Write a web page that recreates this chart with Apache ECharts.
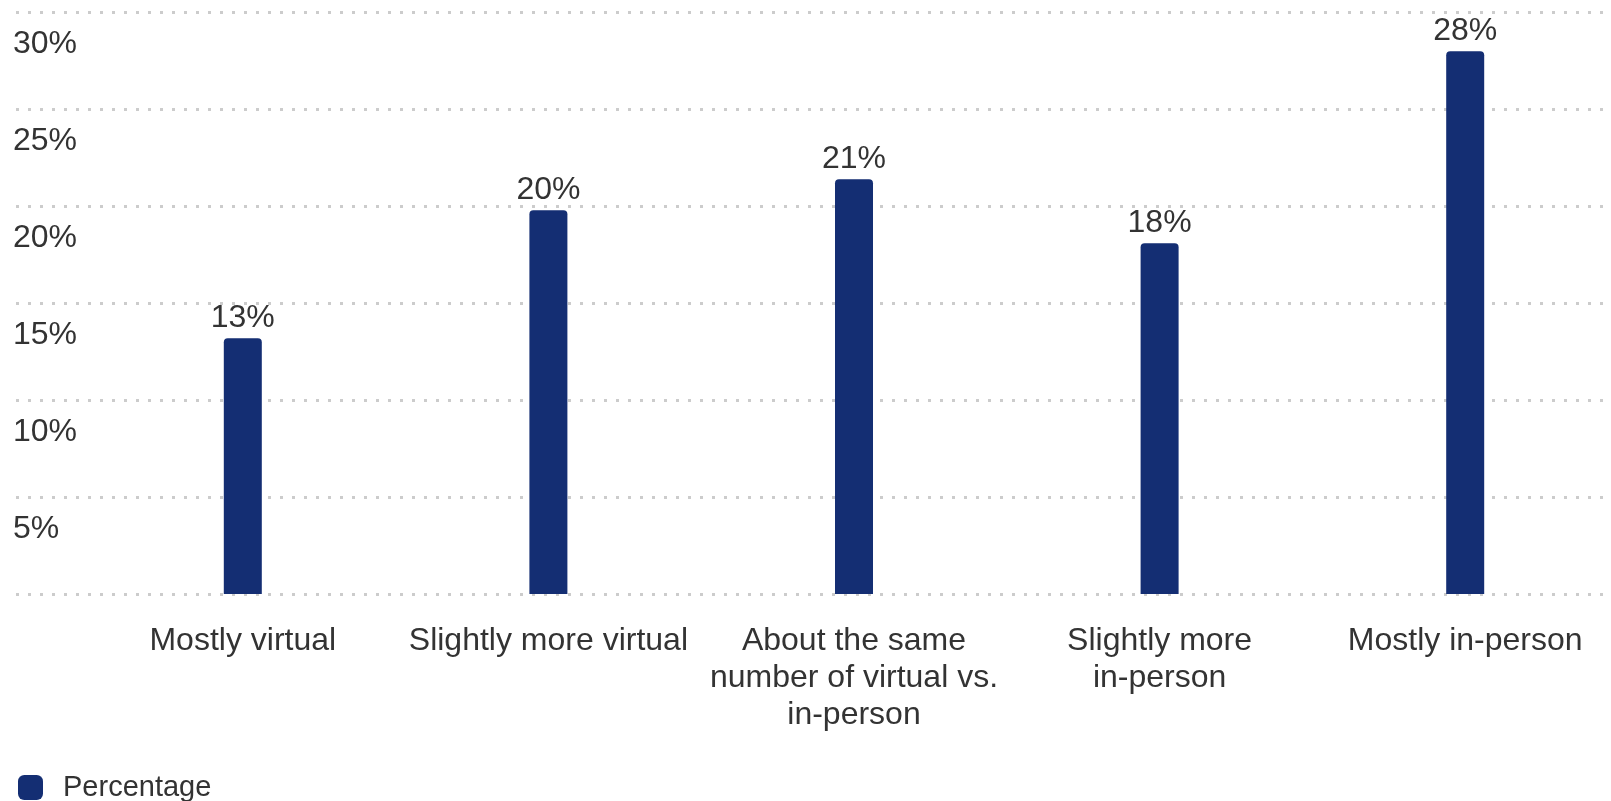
<!DOCTYPE html>
<html>
<head>
<meta charset="utf-8">
<script src="https://cdn.jsdelivr.net/npm/echarts@6/dist/echarts.min.js"></script>
<style>
html,body{margin:0;padding:0;background:#fff;overflow:hidden;width:1611px;height:801px;}
#chart{width:1618px;height:801px;}
</style>
</head>
<body>
<div id="chart"></div>
<script>
const categories = ["Mostly virtual", "Slightly more virtual", "About the same\nnumber of virtual vs.\nin-person", "Slightly more\nin-person", "Mostly in-person"];
const percentage = [13.2, 19.8, 21.4, 18.1, 28.0];
const yTicks = [0, 5, 10, 15, 20, 25, 30];

const FONT = "'Liberation Sans', Arial, sans-serif";
const chart = echarts.init(document.getElementById('chart'), null, {renderer: 'canvas'});
chart.setOption({
  backgroundColor: '#ffffff',
  animation: false,
  textStyle: {fontFamily: FONT},
  grid: [
    {left: 16, right: 0, top: 12.5, bottom: 207},
    {left: 90, right: 0, top: 12.5, bottom: 207}
  ],
  legend: {
    left: 18, top: 773, padding: 0,
    itemWidth: 25, itemHeight: 25,
    icon: 'roundRect',
    textStyle: {fontSize: 29, color: '#333', fontFamily: FONT, padding: [9, 0, 0, 15]},
    data: ['Percentage']
  },
  xAxis: [
    {gridIndex: 0, type: 'value', show: false, min: 0, max: 1},
    {
      gridIndex: 1, type: 'category', data: categories,
      axisLine: {show: false}, axisTick: {show: false},
      axisLabel: {
        interval: 0, margin: 29, fontSize: 32, lineHeight: 37,
        color: '#333', fontFamily: FONT, align: 'center'
      }
    }
  ],
  yAxis: [
    {
      gridIndex: 0, type: 'value', min: yTicks[0], max: yTicks[yTicks.length - 1], interval: 5,
      axisLine: {show: false}, axisTick: {show: false},
      splitLine: {show: true, lineStyle: {color: '#cccccc', width: 3, type: [3, 9]}},
      axisLabel: {
        inside: true, margin: -3, showMinLabel: false,
        fontSize: 32, color: '#333', fontFamily: FONT,
        verticalAlign: 'top', lineHeight: 64,
        formatter: v => v + '%'
      }
    },
    {
      gridIndex: 1, type: 'value', min: yTicks[0], max: yTicks[yTicks.length - 1], interval: 5,
      show: false, splitLine: {show: false}
    }
  ],
  series: [{
    name: 'Percentage',
    type: 'bar',
    xAxisIndex: 1, yAxisIndex: 1,
    data: percentage,
    barWidth: 38,
    itemStyle: {color: '#142e73', borderRadius: [4, 4, 0, 0]},
    label: {
      show: true, position: 'top', distance: 4,
      fontSize: 32, color: '#333', fontFamily: FONT,
      formatter: p => Math.round(p.value) + '%'
    }
  }]
});
</script>
</body>
</html>
